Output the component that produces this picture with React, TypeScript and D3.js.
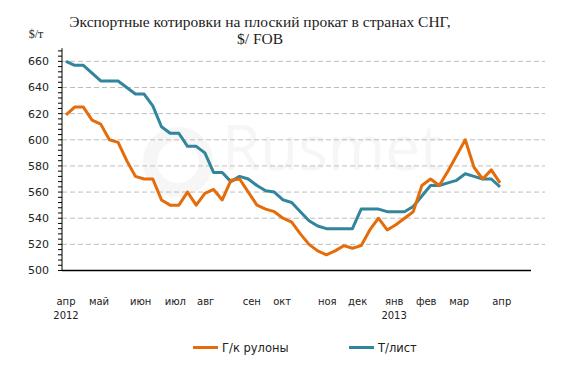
import React from "react";
import * as d3 from "d3";

const title1 = "Экспортные котировки на плоский прокат в странах СНГ,";
const title2 = "$/ FOB";
const unitLabel = "$/т";

// weekly quotes, Apr 2012 – Mar 2013
const hrc = [
  619, 625, 625, 615, 612, 600, 598, 584, 572, 570,
  570, 554, 550, 550, 560, 550, 559, 562, 554, 569,
  570, 560, 550, 547, 545, 540, 537, 528, 520, 515,
  512, 515, 519, 517, 519, 531, 540, 531, 535, 540,
  545, 565, 570, 565, 576, 588, 600, 579, 570, 577,
  567,
];
const sheet = [
  660, 657, 657, 651, 645, 645, 645, 640, 635, 635,
  626, 610, 605, 605, 595, 595, 590, 575, 575, 568,
  572, 570, 565, 561, 560, 554, 552, 545, 538, 534,
  532, 532, 532, 532, 547, 547, 547, 545, 545, 545,
  549, 557, 565, 565, 567, 569, 574, 572, 570, 570,
  564,
];

const seriesNames = ["Г/к рулоны", "Т/лист"];
const seriesColors = ["#E46C0A", "#31859C"];

// month labels placed at fractional week positions
const monthLabels = ["апр", "май", "июн", "июл", "авг", "сен", "окт", "ноя", "дек", "янв", "фев", "мар", "апр"];
const monthPos = [0, 3.8, 8.6, 12.6, 16.1, 21.4, 24.9, 30.1, 33.6, 37.8, 41.5, 45.3, 50.2];
const yearLabels = ["2012", "2013"];
const yearPos = [0, 37.8];

const yTicks = [500, 520, 540, 560, 580, 600, 620, 640, 660];

export default function App() {
  const W = 579;
  const H = 378;
  const axisX = 62;
  const gridRight = 545;
  const x = d3.scaleLinear().domain([0, 50]).range([66, 500]);
  const y = d3.scaleLinear().domain([500, 670]).range([270.5, 48.3]);

  const minor = d3.range(500, 670, 4);
  const line = d3
    .line<number>()
    .x((_, i) => x(i))
    .y((d) => y(d));

  const sansFont = "'DejaVu Sans', sans-serif";
  const serifFont = "'Liberation Serif', serif";

  return (
    <svg
      width={W}
      height={H}
      style={{ position: "absolute", left: 0, top: 0, background: "#fff" }}
    >
      <rect x={0} y={0} width={W} height={H} fill="#fff" />
      {/* watermark */}
      <g opacity={1}>
        <circle cx={178} cy={162} r={28} fill="none" stroke="#f6f6f6" strokeWidth={14} />
        <text
          x={222}
          y={170}
          fontFamily="'Open Sans', sans-serif"
          fontSize={62}
          fill="#f6f6f6"
        >
          Rusmet
        </text>
      </g>

      {/* titles */}
      <text x={260} y={27} textAnchor="middle" fontFamily={serifFont} fontSize={15.5} fill="#222">
        {title1}
      </text>
      <text x={260} y={44} textAnchor="middle" fontFamily={serifFont} fontSize={15.5} fill="#222">
        {title2}
      </text>
      <text x={36} y={38} textAnchor="middle" fontFamily={serifFont} fontSize={12} fill="#222">
        {unitLabel}
      </text>

      {/* gridlines */}
      {yTicks
        .filter((t) => t !== 500)
        .map((t) => (
          <line
            key={"g" + t}
            x1={axisX}
            x2={gridRight}
            y1={y(t)}
            y2={y(t)}
            stroke="#bdbdbd"
            strokeWidth={1}
            strokeDasharray="5,3"
          />
        ))}

      {/* y axis */}
      <line x1={axisX} x2={axisX} y1={y(670)} y2={y(500)} stroke="#000" strokeWidth={1} />
      {minor.map((t) => (
        <line key={"m" + t} x1={axisX - 4} x2={axisX} y1={y(t)} y2={y(t)} stroke="#000" strokeWidth={1} />
      ))}
      {yTicks.map((t) => (
        <text
          key={"yl" + t}
          x={49}
          y={y(t)}
          dy="0.36em"
          textAnchor="end"
          fontFamily={sansFont}
          fontSize={11}
          fill="#222"
        >
          {t}
        </text>
      ))}

      {/* x baseline */}
      <line x1={axisX} x2={531} y1={y(500)} y2={y(500)} stroke="#000" strokeWidth={1.3} />

      {monthLabels.map((m, i) => (
        <text
          key={"ml" + i}
          x={x(monthPos[i])}
          y={305}
          textAnchor="middle"
          fontFamily={sansFont}
          fontSize={10}
          fill="#222"
        >
          {m}
        </text>
      ))}
      {yearLabels.map((m, i) => (
        <text
          key={"yr" + i}
          x={x(yearPos[i])}
          y={319}
          textAnchor="middle"
          fontFamily={sansFont}
          fontSize={10}
          fill="#222"
        >
          {m}
        </text>
      ))}

      {/* series */}
      <path d={line(sheet) || ""} fill="none" stroke={seriesColors[1]} strokeWidth={3} strokeLinejoin="round" />
      <path d={line(hrc) || ""} fill="none" stroke={seriesColors[0]} strokeWidth={3} strokeLinejoin="round" />

      {/* legend */}
      {seriesNames.map((n, i) => {
        const lx = i === 0 ? 193 : 349;
        return (
          <g key={"lg" + i}>
            <line x1={lx} x2={lx + 25} y1={347.5} y2={347.5} stroke={seriesColors[i]} strokeWidth={3} />
            <text x={lx + 29} y={347.5} dy="0.36em" fontFamily={sansFont} fontSize={11.5} fill="#222">
              {n}
            </text>
          </g>
        );
      })}
    </svg>
  );
}
